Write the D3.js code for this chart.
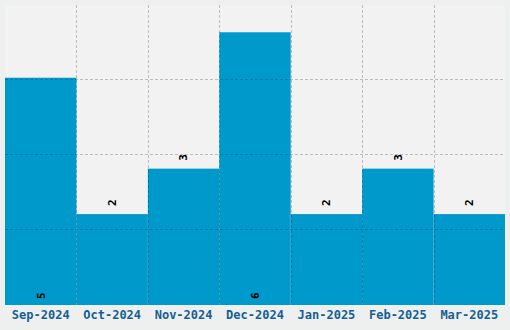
<!DOCTYPE html>
<html>
<head>
<meta charset="utf-8">
<script src="https://cdn.jsdelivr.net/npm/d3@7"></script>
<style>
  body { margin: 0; background: #eef0f0; }
  svg { display: block; }
</style>
</head>
<body>
<div id="chart"></div>
<script>
var months = ["Sep-2024", "Oct-2024", "Nov-2024", "Dec-2024", "Jan-2025", "Feb-2025", "Mar-2025"];
var counts = [5, 2, 3, 6, 2, 3, 2];

var margin = {top: 5, right: 5, bottom: 25, left: 5},
    width = 510 - margin.left - margin.right,
    height = 330 - margin.top - margin.bottom;

var svg = d3.select("#chart")
    .append("svg")
    .attr("width", width + margin.left + margin.right)
    .attr("height", height + margin.top + margin.bottom)
    .style("background", "#eef0f0")
    .append("g")
    .attr("transform", "translate(" + margin.left + "," + margin.top + ")");

svg.append("rect")
    .attr("width", width)
    .attr("height", height)
    .attr("fill", "#f2f2f2");

var x = d3.scaleBand().domain(months).range([0, width]).padding(0);
var y = d3.scaleLinear().domain([0, d3.max(counts) * 1.1]).range([height, 0]);
var grid = d3.scaleLinear().domain([0, 4]).range([height, 0]);

var data = months.map(function (m, i) { return {month: m, count: counts[i]}; });

svg.selectAll(".bar")
    .data(data)
    .enter()
    .append("rect")
    .attr("class", "bar")
    .attr("x", function (d) { return x(d.month); })
    .attr("y", function (d) { return y(d.count); })
    .attr("width", x.bandwidth())
    .attr("height", function (d) { return height - y(d.count); })
    .attr("fill", "#0099cc");

// dashed grid drawn over the bars
svg.selectAll(".vgrid")
    .data(months.slice(1))
    .enter()
    .append("line")
    .attr("x1", function (d) { return Math.round(x(d)) + 0.5; })
    .attr("x2", function (d) { return Math.round(x(d)) + 0.5; })
    .attr("y1", 0)
    .attr("y2", height)
    .attr("stroke", "rgba(0,0,0,0.22)")
    .attr("stroke-dasharray", "3,2");

svg.selectAll(".hgrid")
    .data(grid.ticks(4).filter(function (t) { return t > 0 && t < 4; }))
    .enter()
    .append("line")
    .attr("x1", 0)
    .attr("x2", width)
    .attr("y1", function (d) { return Math.round(grid(d)) - 0.5; })
    .attr("y2", function (d) { return Math.round(grid(d)) - 0.5; })
    .attr("stroke", "rgba(0,0,0,0.22)")
    .attr("stroke-dasharray", "3,2");

var maxCount = d3.max(counts);
svg.selectAll(".val")
    .data(data)
    .enter()
    .append("text")
    .attr("transform", function (d) {
        var cx = x(d.month) + x.bandwidth() / 2;
        var ty = d.count > maxCount * 0.75 ? height - 6 : y(d.count) - 8;
        return "translate(" + cx + "," + ty + ") rotate(-90)";
    })
    .attr("dy", "0.35em")
    .style("text-anchor", "start")
    .style("font-family", "DejaVu Sans Mono, monospace")
    .style("font-weight", "bold")
    .style("font-size", "11px")
    .attr("fill", "#000")
    .text(function (d) { return d.count; });

var xAxis = svg.append("g")
    .attr("transform", "translate(0," + height + ")")
    .call(d3.axisBottom(x).tickSize(0).tickPadding(5));
xAxis.select(".domain").remove();
xAxis.selectAll("text")
    .style("font-family", "DejaVu Sans Mono, monospace")
    .style("font-weight", "bold")
    .style("font-size", "12px")
    .attr("fill", "#165f92");
</script>
</body>
</html>
